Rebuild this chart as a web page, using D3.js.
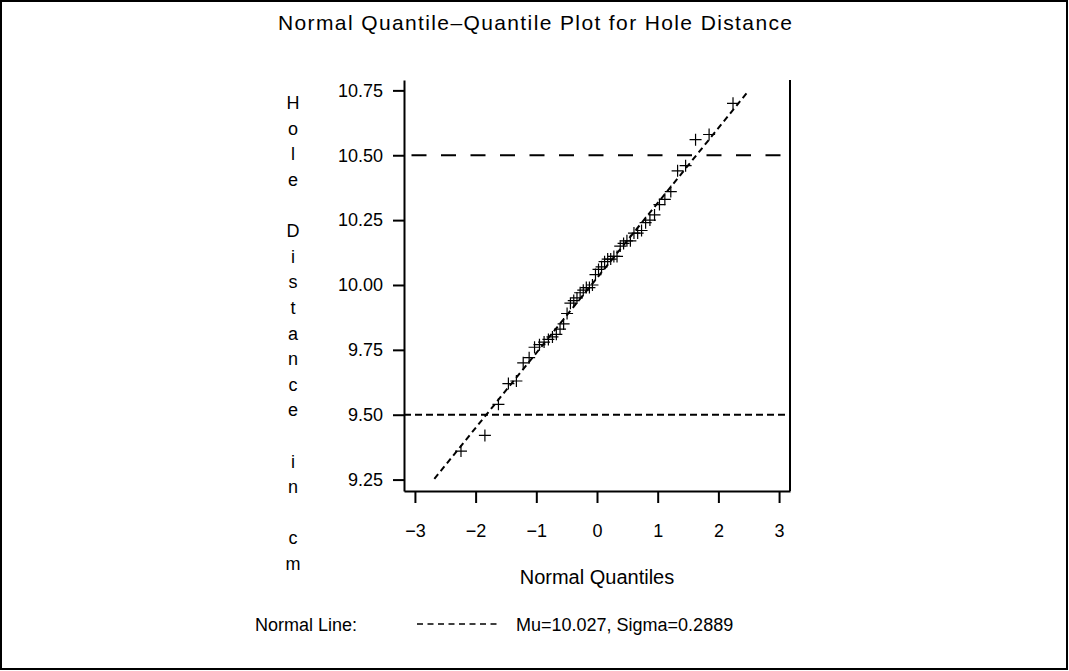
<!DOCTYPE html>
<html lang="en">
<head>
<meta charset="UTF-8">
<title>Normal Quantile-Quantile Plot for Hole Distance</title>
<script src="https://cdn.jsdelivr.net/npm/d3@7"></script>
<style>
  body { margin: 0; background: #fff; }
  svg text { font-family: "Liberation Sans", Arial, Helvetica, sans-serif; fill: #000; }
</style>
</head>
<body>
<svg id="chart" width="1069" height="671"></svg>
<script>
// normal quantiles (x) and sorted hole distances (y)
var quantiles = [-2.241, -1.847, -1.624, -1.460, -1.328, -1.216, -1.118, -1.029, -0.948, -0.872,
                 -0.801, -0.734, -0.670, -0.609, -0.550, -0.493, -0.438, -0.383, -0.330, -0.278,
                 -0.226, -0.176, -0.125, -0.075, -0.025, 0.025, 0.075, 0.125, 0.176, 0.226,
                 0.278, 0.330, 0.383, 0.438, 0.493, 0.550, 0.609, 0.670, 0.734, 0.801,
                 0.872, 0.948, 1.029, 1.118, 1.216, 1.328, 1.460, 1.624, 1.847, 2.241];
var holeDistance = [9.36, 9.42, 9.54, 9.62, 9.63, 9.70, 9.72, 9.76, 9.77, 9.78,
                    9.79, 9.80, 9.81, 9.83, 9.85, 9.89, 9.93, 9.94, 9.95, 9.97,
                    9.98, 9.99, 9.99, 10.00, 10.04, 10.06, 10.07, 10.09, 10.10, 10.10,
                    10.11, 10.11, 10.15, 10.16, 10.17, 10.17, 10.20, 10.20, 10.21, 10.24,
                    10.25, 10.27, 10.31, 10.33, 10.36, 10.44, 10.46, 10.56, 10.58, 10.70];
var yTicks = [9.25, 9.50, 9.75, 10.00, 10.25, 10.50, 10.75];
var xTicks = [-3, -2, -1, 0, 1, 2, 3];
var mu = 10.027, sigma = 0.2889;
var lineRange = [-2.68, 2.49];   // where the normal line is drawn
var upperLimit = 10.50, lowerLimit = 9.50;
var yLabel = "Hole Distance in cm";

var svg = d3.select("#chart");

// outer border
svg.append("rect")
  .attr("x", 1).attr("y", 1).attr("width", 1066).attr("height", 668)
  .attr("fill", "none").attr("stroke", "#000").attr("stroke-width", 2);

var plotLeft = 404, plotRight = 790, plotTop = 80, plotBottom = 491;

var x = d3.scaleLinear().domain([-3.18, 3.18]).range([plotLeft, plotRight]);
var y = d3.scaleLinear().domain([9.206, 10.79]).range([plotBottom, plotTop]);

// title
svg.append("text")
  .attr("x", 535).attr("y", 30)
  .attr("text-anchor", "middle")
  .attr("font-size", 21)
  .attr("textLength", 514).attr("lengthAdjust", "spacing")
  .text("Normal Quantile\u2013Quantile Plot for Hole Distance");

// axes
var yAxis = d3.axisLeft(y).tickValues(yTicks).tickFormat(d3.format(".2f"))
  .tickSize(11).tickSizeOuter(0).tickPadding(10);
var xAxis = d3.axisBottom(x).tickValues(xTicks).tickFormat(d3.format("d"))
  .tickSize(12).tickSizeOuter(0).tickPadding(21);

var gy = svg.append("g").attr("transform", "translate(" + plotLeft + ",0)").call(yAxis);
var gx = svg.append("g").attr("transform", "translate(0," + plotBottom + ")").call(xAxis);

[gy, gx].forEach(function(g) {
  g.selectAll("path, line").attr("stroke", "#000").attr("stroke-width", 2);
  g.selectAll("text").attr("font-size", 18).attr("fill", "#000")
    .style("font-family", "'Liberation Sans', Arial, sans-serif");
});

// right side of frame
svg.append("line")
  .attr("x1", plotRight).attr("x2", plotRight).attr("y1", plotTop).attr("y2", plotBottom)
  .attr("stroke", "#000").attr("stroke-width", 2);

// specification lines
svg.append("line")
  .attr("x1", plotLeft).attr("x2", plotRight).attr("y1", y(upperLimit)).attr("y2", y(upperLimit))
  .attr("stroke", "#000").attr("stroke-width", 2).attr("stroke-dasharray", "15,14.5")
  .attr("stroke-dashoffset", 22);
svg.append("line")
  .attr("x1", plotLeft).attr("x2", plotRight).attr("y1", y(lowerLimit)).attr("y2", y(lowerLimit))
  .attr("stroke", "#000").attr("stroke-width", 2).attr("stroke-dasharray", "7,4");

// normal reference line
svg.append("line")
  .attr("x1", x(lineRange[0])).attr("y1", y(mu + sigma * lineRange[0]))
  .attr("x2", x(lineRange[1])).attr("y2", y(mu + sigma * lineRange[1]))
  .attr("stroke", "#000").attr("stroke-width", 2).attr("stroke-dasharray", "6,4");

// points as plus markers
svg.append("g").selectAll("path")
  .data(quantiles)
  .enter().append("path")
  .attr("transform", function(d, i) { return "translate(" + x(d) + "," + y(holeDistance[i]) + ")"; })
  .attr("d", "M-6,0H6M0,-6V6")
  .attr("stroke", "#000").attr("stroke-width", 1.2).attr("fill", "none");

// vertical y label, one character per row
var chars = yLabel.split("");
var step = (564 - 103) / (chars.length - 1);
svg.append("g").selectAll("text")
  .data(chars)
  .enter().append("text")
  .attr("x", 293)
  .attr("y", function(d, i) { return 103 + i * step + 6; })
  .attr("text-anchor", "middle")
  .attr("font-size", 18)
  .text(function(d) { return d; });

// x label
svg.append("text")
  .attr("x", 597).attr("y", 584)
  .attr("text-anchor", "middle")
  .attr("font-size", 20)
  .text("Normal Quantiles");

// legend
svg.append("text")
  .attr("x", 255).attr("y", 631)
  .attr("font-size", 18)
  .text("Normal Line:");
svg.append("line")
  .attr("x1", 417).attr("x2", 501).attr("y1", 624).attr("y2", 624)
  .attr("stroke", "#000").attr("stroke-width", 1.5).attr("stroke-dasharray", "6,4.5");
svg.append("text")
  .attr("x", 516).attr("y", 631)
  .attr("font-size", 18)
  .text("Mu=10.027, Sigma=0.2889");
</script>
</body>
</html>
